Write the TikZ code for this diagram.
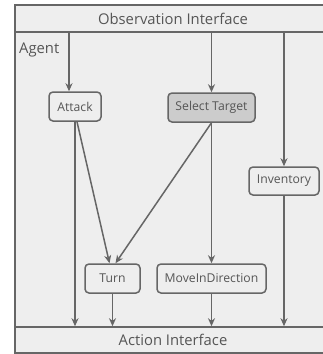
\documentclass[tikz,border=0pt]{standalone}
\usepackage{fontspec}
\setmainfont{Open Sans}
\usetikzlibrary{arrows.meta}
\definecolor{bgc}{HTML}{EEEEEE}
\definecolor{linec}{HTML}{666666}
\definecolor{txtc}{HTML}{555555}
\definecolor{selc}{HTML}{CCCCCC}
\begin{document}
\begin{tikzpicture}[x=1pt,y=-1pt,
  arr/.style={draw=linec, line width=1.5pt, -{Stealth[length=8pt,width=7pt,inset=2.5pt]}},
  band/.style={draw=linec, line width=1.5pt, fill=bgc, minimum width=316pt, inner sep=0pt, text=txtc, font=\fontsize{14.8}{16}\selectfont},
  act/.style={draw=linec, line width=1.5pt, fill=bgc, rounded corners=4pt, minimum height=29pt, inner sep=0pt, text=txtc, font=\fontsize{12.2}{14}\selectfont}
]
\useasboundingbox (0,0) rectangle (322,354);
\fill[white] (0,0) rectangle (322,354);
\draw[draw=linec, line width=1.5pt, fill=bgc] (15,5) rectangle (331,353);
\node[band, minimum height=27pt] (obs) at (173,18.5) {Observation Interface};
\node[band, minimum height=26pt] (actif) at (173,340) {Action Interface};
\node[anchor=west, text=txtc, font=\fontsize{14.8}{16}\selectfont, inner sep=0pt] (agent) at (19,50) {Agent};

\node[act, minimum width=52pt] (attack) at (75,106.5) {Attack};
\node[act, minimum width=87pt, fill=selc] (sel) at (211.5,107.5) {Select Target};
\node[act, minimum width=70pt, minimum height=28pt] (inv) at (284,181) {Inventory};
\node[act, minimum width=55pt] (turn) at (112.5,278.5) {Turn};
\node[act, minimum width=109pt] (move) at (211.5,278.5) {MoveInDirection};

\coordinate (attin) at ([xshift=-6pt]attack.north);
\draw[arr] (obs.south -| attin) -- (attin);
\draw[arr] (obs.south -| sel.north) -- (sel.north);
\draw[arr] (obs.south -| inv.north) -- (inv.north);

\draw[arr] (attack.south) -- (attack.south |- actif.north);
\draw[arr] ([xshift=2pt]attack.south) -- ([xshift=-3pt]turn.north);
\draw[arr] (sel.south) -- ([xshift=3pt]turn.north);
\draw[arr] (sel.south) -- (move.north);
\draw[arr] (turn.south) -- (turn.south |- actif.north);
\draw[arr] (move.south) -- (move.south |- actif.north);
\draw[arr] (inv.south) -- (inv.south |- actif.north);
\end{tikzpicture}
\end{document}
